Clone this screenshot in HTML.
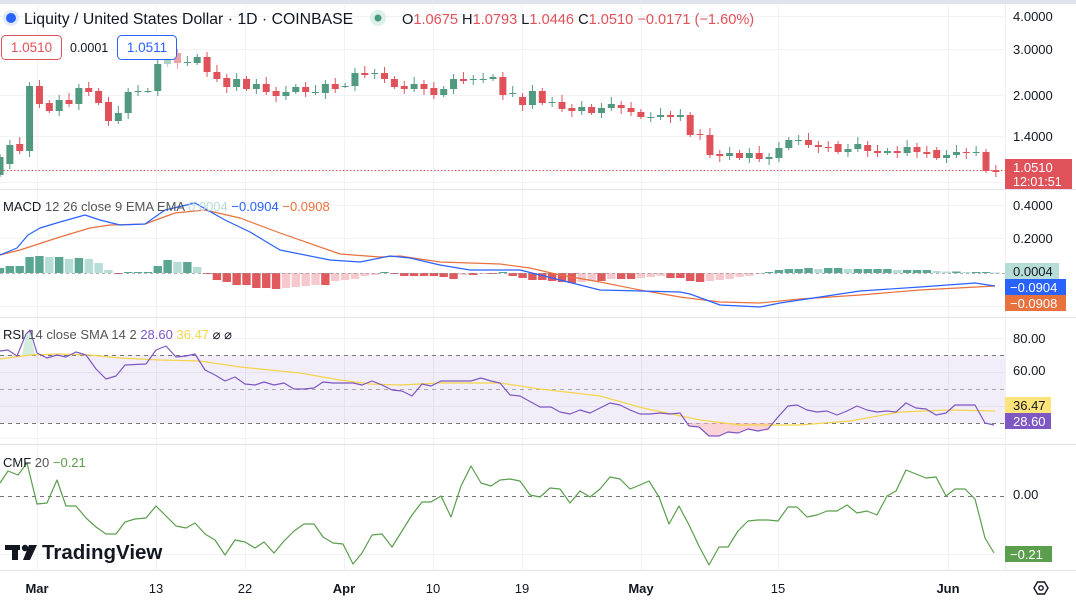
<!DOCTYPE html>
<html><head><meta charset="utf-8"><style>
html,body{margin:0;padding:0;background:#fff;width:1076px;height:600px;overflow:hidden;font-family:"Liberation Sans",sans-serif}
svg text{font-family:"Liberation Sans",sans-serif}
</style></head><body>
<svg id="s" width="1076" height="600" xmlns="http://www.w3.org/2000/svg">
<rect x="0" y="0" width="1076" height="4" fill="#e0e3eb"/>
<g id="grid" stroke="#f0f2f5" stroke-width="1"></g>
<g id="panes"></g>
<g id="content"></g>
<!-- header -->
<circle cx="11" cy="18" r="8" fill="#e3eaf7"/><circle cx="11" cy="18" r="5" fill="#2962ff"/>
<text x="24" y="24" font-size="15.8" fill="#131722">Liquity / United States Dollar · 1D · COINBASE</text>
<circle cx="378" cy="18" r="8" fill="#dcefe8"/><circle cx="378" cy="18" r="3.5" fill="#4a9a7c"/>
<text x="402" y="24" font-size="14.6" fill="#131722">O<tspan fill="#e0525a">1.0675</tspan> H<tspan fill="#e0525a">1.0793</tspan> L<tspan fill="#e0525a">1.0446</tspan> C<tspan fill="#e0525a">1.0510 −0.0171 (−1.60%)</tspan></text>
<rect x="1.5" y="35.5" width="60" height="24" rx="4" fill="#fff" stroke="#e0525a"/>
<text x="31.5" y="52" font-size="13.5" fill="#e0525a" text-anchor="middle">1.0510</text>
<text x="70" y="52" font-size="12.5" fill="#131722">0.0001</text>
<rect x="117.5" y="35.5" width="59" height="24" rx="4" fill="#fff" stroke="#2962ff"/>
<text x="147" y="52" font-size="13.5" fill="#2962ff" text-anchor="middle">1.0511</text>
<!-- right axis labels -->
<g font-size="13" fill="#131722">
<text x="1013" y="21">4.0000</text><text x="1013" y="54">3.0000</text><text x="1013" y="100">2.0000</text><text x="1013" y="141">1.4000</text>
<text x="1013" y="210">0.4000</text><text x="1013" y="243">0.2000</text>
<text x="1013" y="343">80.00</text><text x="1013" y="375">60.00</text>
<text x="1013" y="499">0.00</text>
</g>
<rect x="1005" y="159" width="67" height="30" fill="#e0525a"/>
<text x="1013" y="172" font-size="13" fill="#fff">1.0510</text><text x="1013" y="186" font-size="12.5" fill="#fff">12:01:51</text>
<rect x="1005" y="263" width="54" height="16" fill="#b7ddd7"/><text x="1013" y="276" font-size="13" fill="#131722">0.0004</text>
<rect x="1005" y="279" width="61" height="16" fill="#2962ff"/><text x="1010" y="292" font-size="13" fill="#fff">−0.0904</text>
<rect x="1005" y="295" width="61" height="16" fill="#e8713d"/><text x="1010" y="308" font-size="13" fill="#fff">−0.0908</text>
<rect x="1005" y="397" width="46" height="16" fill="#fde47a"/><text x="1013" y="410" font-size="13" fill="#131722">36.47</text>
<rect x="1005" y="413" width="46" height="16" fill="#7e57c2"/><text x="1013" y="426" font-size="13" fill="#fff">28.60</text>
<rect x="1005" y="546" width="47" height="16" fill="#5b9e4d"/><text x="1010" y="559" font-size="13" fill="#fff">−0.21</text>
<!-- legends -->
<text x="3" y="211" font-size="13" fill="#131722">MACD <tspan fill="#555">12 26 close 9 EMA EMA</tspan> <tspan fill="#b7ddd7">0.0004</tspan> <tspan fill="#2962ff">−0.0904</tspan> <tspan fill="#e8713d">−0.0908</tspan></text>
<text x="3" y="339" font-size="13" fill="#131722">RSI <tspan fill="#555">14 close SMA 14 2</tspan>   <tspan fill="#7e57c2">28.60</tspan> <tspan fill="#f5d44c">36.47</tspan> <tspan fill="#131722">⌀ ⌀</tspan></text>
<text x="3" y="467" font-size="13" fill="#131722">CMF <tspan fill="#555">20</tspan>   <tspan fill="#5b9e4d">−0.21</tspan></text>
<!-- TradingView logo -->
<g fill="#131722"><rect x="5" y="545" width="15" height="5"/><rect x="12" y="545" width="6" height="15"/><circle cx="25" cy="548" r="3.2"/><path d="M29 545 H37 L30 560 H23 Z"/></g>
<text x="42" y="559" font-size="20.5" font-weight="bold" fill="#131722">TradingView</text>
<!-- x axis -->
<g font-size="13" fill="#131722" text-anchor="middle">
<text x="37" y="593" font-weight="bold">Mar</text><text x="156" y="593">13</text><text x="245" y="593">22</text>
<text x="344" y="593" font-weight="bold">Apr</text><text x="433" y="593">10</text><text x="522" y="593">19</text>
<text x="641" y="593" font-weight="bold">May</text><text x="778" y="593">15</text><text x="948" y="593" font-weight="bold">Jun</text>
</g>
<g transform="translate(1041,588)" fill="none" stroke="#131722" stroke-width="1.4"><path d="M-7 0 L-3.5 -6 L3.5 -6 L7 0 L3.5 6 L-3.5 6 Z"/><circle r="2.2"/></g>
</svg>
<script>
const NS="http://www.w3.org/2000/svg";
function el(parent,tag,attrs){const e=document.createElementNS(NS,tag);for(const k in attrs)e.setAttribute(k,attrs[k]);document.getElementById(parent).appendChild(e);return e;}
const vx=[37,156,245,344,433,522,641,778,948];
vx.forEach(x=>el('grid','line',{x1:x+.5,y1:5,x2:x+.5,y2:570}));
[16,49,95,136,182,205,238,306,338,372,406,438,554].forEach(y=>el('grid','line',{x1:0,y1:y+.5,x2:1005,y2:y+.5}));
[189,317,444,570].forEach(y=>el('panes','line',{x1:0,y1:y+.5,x2:1076,y2:y+.5,stroke:'#e0e3eb'}));
el('panes','line',{x1:1005.5,y1:4,x2:1005.5,y2:570,stroke:'#eef0f3'});
const C=[[175,157],[164,145],[144,151],[151,86],[86,104],[103,111],[111,100],[100,104],[104,88],[88,92],[91,103],[102,121],[121,113],[113,92],[92,91],[91,91],[91,64],[64,59],[53,63],[62,62],[63,57],[57,72],[72,79],[78,87],[87,79],[79,89],[89,84],[84,92],[91,96],[96,92],[92,87],[87,92],[92,92],[93,84],[84,89],[86,86],[86,73],[73,75],[73,73],[73,79],[79,87],[86,89],[89,84],[84,89],[88,95],[95,89],[89,79],[79,81],[79,79],[79,79],[79,77],[77,95],[94,93],[97,105],[105,91],[91,103],[102,102],[102,109],[108,111],[111,107],[107,113],[113,108],[108,104],[105,108],[108,112],[112,117],[117,117],[117,115],[115,117],[117,115],[115,135],[134,135],[135,155],[154,156],[156,153],[153,158],[158,153],[153,159],[159,157],[158,148],[148,140],[140,140],[140,145],[145,147],[147,148],[144,152],[152,149],[149,144],[145,151],[151,153],[153,151],[151,153],[153,147],[147,152],[152,154],[150,158],[158,155],[155,152],[152,153],[152,152],[152,171],[170,172]];
const W=9.86;
C.forEach((c,i)=>{const x=i*W;let [o,cl]=c;const up=cl<=o;const col=up?'#519a7f':'#e0525a';
 const top=Math.min(o,cl),bot=Math.max(o,cl);const w1=3+((i*7)%5),w2=2+((i*3)%5);
 let fc=col; if(i==17)fc='#a7d3c7'; if(i==18)fc='#eda0a5';
 el('content','line',{x1:x,y1:top-w1,x2:x,y2:bot+w2,stroke:fc,'stroke-width':1});
 el('content','rect',{x:x-3.5,y:top,width:7,height:Math.max(1,bot-top),fill:fc});});
el('content','line',{x1:0,y1:170.5,x2:1005,y2:170.5,stroke:'#e0525a','stroke-dasharray':'1.5,2'});
const H=[5,7,7,16,17,16,16,14,15,14,10,3,-.5,1,1,1,7,13,11,11,6,-1,-7,-9,-12,-12,-15,-15,-16,-15,-14,-13,-12,-12,-8,-7,-6,-3,-2,1,-1,-3,-3,-3,-3,-4,-6,-2,-2,-1,-1,1,-3,-5,-7,-7,-8,-9,-10,-9,-8,-8,-6,-6,-6,-5,-4,-3,-5,-5,-8,-9,-8,-7,-6,-4,-3,-1,1,3,4,4,5,4,5,5,4,4,4,4,4,3,3,3,3,2,1.5,1.5,1,1,1,.5];
const Z=273;
H.forEach((h,i)=>{const x=i*W;const p=i?H[i-1]:0;let col;
 if(h>=0)col=(h>=p)?'#5ba593':'#b7ddd7';else col=(h<=p)?'#e0595c':'#f5c9cd';
 el('content','rect',{x:x-4.2,y:h>=0?Z-h:Z,width:8.4,height:Math.max(1,Math.abs(h)),fill:col});});
el('content','line',{x1:0,y1:Z+.5,x2:1005,y2:Z+.5,stroke:'#999','stroke-dasharray':'3,3','stroke-width':.8});
function pl(pts,col,w){el('content','polyline',{points:pts.map(p=>p.join(',')).join(' '),fill:'none',stroke:col,'stroke-width':w||1.2,'stroke-linejoin':'round'});}
pl([[0,255],[20,250],[60,237],[90,228],[110,225],[145,224],[175,213],[205,210],[240,218],[280,233],[340,254],[380,257],[400,256],[440,262],[500,264],[530,268],[560,275],[600,282],[640,290],[680,297],[720,302],[760,303],[800,299],[860,295],[920,290],[995,286]],'#e8713d');
pl([[0,255],[17,248],[28,235],[40,228],[60,222],[85,215],[100,220],[120,225],[145,224],[165,210],[195,203],[225,220],[250,232],[280,250],[330,260],[360,262],[390,256],[410,258],[440,265],[470,270],[520,270],[540,275],[560,280],[600,290],[680,292],[690,294],[720,305],[760,307],[780,303],[820,297],[860,291],[920,287],[975,283],[995,286]],'#2962ff');
el('content','rect',{x:0,y:355,width:1005,height:68,fill:'#7e57c2','fill-opacity':.1});
[355,389,423].forEach((y,k)=>el('content','line',{x1:0,y1:y+.5,x2:1005,y2:y+.5,stroke:k==1?'#aaa':'#777','stroke-dasharray':'4,4','stroke-width':1}));
el('content','polygon',{points:'689,423 689,426 699,427 709,436 719,436 728,432 738,433 748,429 758,431 768,429 775,423',fill:'#f5b5bd','fill-opacity':.6});
el('content','polygon',{points:'22,355 26,334 30,330 35,355',fill:'#b8dec6','fill-opacity':.6});
pl([[0,359],[30,355],[60,354],[90,355],[120,358],[160,360],[200,361],[240,367],[300,373],[340,380],[370,384],[400,385],[440,383],[500,383],[540,389],[600,396],[643,408],[700,420],[740,425],[800,425],[850,421],[900,412],[950,410],[995,411]],'#f5d44c');
pl([[0,351],[8,350],[17,356],[26,334],[30,330],[37,353],[47,358],[57,355],[66,357],[76,352],[86,355],[96,369],[106,379],[116,376],[125,365],[146,364],[156,350],[166,346],[176,357],[186,356],[195,354],[205,370],[215,375],[225,381],[235,377],[245,384],[255,385],[264,382],[274,385],[284,383],[294,389],[304,389],[314,388],[323,382],[333,383],[343,383],[353,383],[362,385],[372,381],[382,385],[392,390],[402,391],[412,396],[422,384],[431,386],[441,381],[451,381],[461,381],[471,381],[481,378],[491,381],[500,383],[510,395],[520,396],[540,407],[551,407],[560,412],[570,414],[580,410],[590,413],[600,408],[610,403],[620,405],[630,410],[640,414],[650,414],[660,413],[670,414],[680,413],[689,426],[699,427],[709,436],[719,436],[728,432],[738,433],[748,429],[758,431],[768,429],[778,417],[788,406],[797,405],[807,410],[817,412],[827,411],[837,415],[847,411],[857,406],[867,410],[877,412],[887,411],[896,412],[906,403],[916,408],[926,409],[936,415],[946,413],[955,405],[965,405],[975,405],[985,423],[994,425]],'#7e57c2');
el('content','line',{x1:0,y1:496.5,x2:1005,y2:496.5,stroke:'#777','stroke-dasharray':'4,4'});
pl([[0,483],[8,471],[18,475],[27,463],[37,504],[47,503],[57,480],[66,506],[76,506],[86,518],[96,527],[106,534],[116,534],[125,522],[135,519],[146,518],[156,506],[166,516],[176,526],[186,528],[195,523],[205,534],[215,540],[225,555],[235,540],[245,542],[255,548],[264,542],[274,553],[284,541],[294,531],[304,524],[314,524],[323,537],[333,543],[343,544],[353,564],[362,553],[372,535],[382,534],[392,547],[402,531],[412,515],[422,502],[431,502],[441,496],[451,517],[461,486],[471,466],[481,483],[491,486],[500,480],[510,479],[520,481],[530,495],[540,497],[550,488],[560,489],[570,503],[580,491],[590,497],[600,489],[610,477],[620,479],[630,489],[640,485],[649,481],[659,497],[669,524],[679,506],[689,525],[699,546],[709,565],[719,547],[728,547],[738,531],[748,521],[758,520],[768,520],[778,521],[788,507],[797,507],[807,517],[817,515],[827,511],[837,511],[847,505],[857,513],[867,511],[877,515],[887,496],[896,491],[906,470],[916,474],[926,478],[936,477],[946,496],[955,489],[965,489],[975,499],[985,538],[994,553]],'#5b9e4d');
</script>
</body></html>
